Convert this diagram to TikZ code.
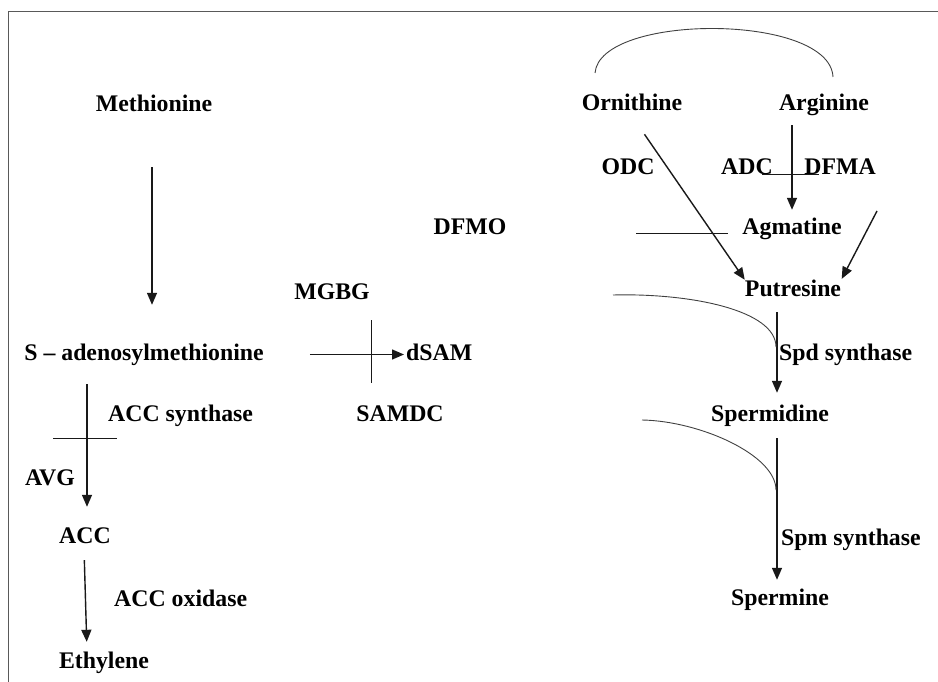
\documentclass[tikz,border=0pt]{standalone}
\usepackage{fontspec}
\setmainfont{Liberation Serif}
\usetikzlibrary{positioning,arrows.meta,calc}

\begin{document}
\begin{tikzpicture}[x=1pt, y=-1pt,
  lbl/.style={anchor=base, inner sep=0pt, text height=16pt, text depth=5pt,
    font=\fontsize{23.8}{28}\selectfont\bfseries},
  enz/.style={lbl, anchor=base west},
  flow/.style={->, line width=1.4pt, black!90},
  block/.style={line width=1pt, black!90},
  side/.style={line width=0.9pt, black!75},
  frame/.style={line width=1pt, black!65},
  >={Triangle[length=12pt,width=10pt]}]
\useasboundingbox (0,0) rectangle (938,682);
\draw[frame] (938,12) -- (8,12) -- (8,682);

% ethylene branch
\node[lbl] (met) at (154,112) {Methionine};
\node[lbl] (sam) at (144,360) {S – adenosylmethionine};
\node[enz] (accsyn) at (108,421) {ACC synthase};
\node[lbl] (avg) at (50,485) {AVG};
\node[lbl] (acc) at (85,543) {ACC};
\node[enz] (accox) at (114,606) {ACC oxidase};
\node[lbl] (eth) at (104,668) {Ethylene};

% decarboxylated SAM
\node[lbl] (mgbg) at (332,299) {MGBG};
\node[enz] (dsam) at (406,360) {dSAM};
\node[lbl] (samdc) at (400,421) {SAMDC};
\node[lbl] (dfmo) at (470,235) {DFMO};

% polyamine branch
\node[lbl] (orn) at (632,111) {Ornithine};
\node[lbl] (arg) at (824,111) {Arginine};
\node[lbl] (odc) at (628,175) {ODC};
\node[lbl] (adc) at (747,175) {ADC};
\node[lbl] (dfma) at (840,175) {DFMA};
\node[lbl] (agm) at (792,235) {Agmatine};
\node[lbl] (put) at (793,296) {Putresine};
\node[enz] (spdsyn) at (779,360) {Spd synthase};
\node[lbl] (spd) at (770,421) {Spermidine};
\node[enz] (spmsyn) at (781,545) {Spm synthase};
\node[lbl] (spm) at (780,605) {Spermine};

\coordinate (spine) at (777,0);
\coordinate (agmfrom) at (877,211);
\coordinate (ornarc) at (595,73);
\coordinate (argarc) at (833,77);
\coordinate (spdfrom) at (613,295);
\coordinate (spdjoin) at (776,347);
\coordinate (spmfrom) at (642,420);
\coordinate (spmjoin) at (776,490);

\draw[flow, shorten <=50pt, shorten >=39pt] ([xshift=-2pt]met.south) -- ([xshift=-2pt]met.south |- sam.north);
\draw[flow, shorten <=19pt, shorten >=20pt] ([xshift=2pt]acc.north |- sam.south) -- ([xshift=2pt]acc.north);
\draw[flow, shorten <=12pt, shorten >=10pt] ([xshift=-1pt]acc.south) -- ([xshift=-17pt]eth.north);
\draw[flow, shorten <=46pt, shorten >=2pt] (sam.east) -- (dsam.west);
\draw[flow, shorten <=22pt] (orn.south) -- (put.north west);
\draw[flow, shorten <=9pt, shorten >=9pt] (agm.north |- arg.south) -- (agm.north);
\draw[flow, shorten >=1pt] (agmfrom) -- (put.north east);
\draw[flow, shorten <=11pt, shorten >=12pt] (put.south -| spine) -- (spd.north -| spine);
\draw[flow, shorten <=12pt, shorten >=9pt] (spd.south -| spine) -- (spm.north -| spine);

% inhibitor bars
\draw[block] (53,438) -- (117,438);
\draw[block] (371,320) -- (371,383);
\draw[block] (762,175) -- (819,175);
\draw[block] (636,234) -- (728,234);

% aminopropyl transfer and ornithine cycle
\draw[side] (ornarc) .. controls (600,13) and (830,13) .. (argarc);
\draw[side] (spdfrom) .. controls (690,293) and (776,310) .. (spdjoin);
\draw[side] (spmfrom) .. controls (700,421) and (776,455) .. (spmjoin);
\end{tikzpicture}
\end{document}
